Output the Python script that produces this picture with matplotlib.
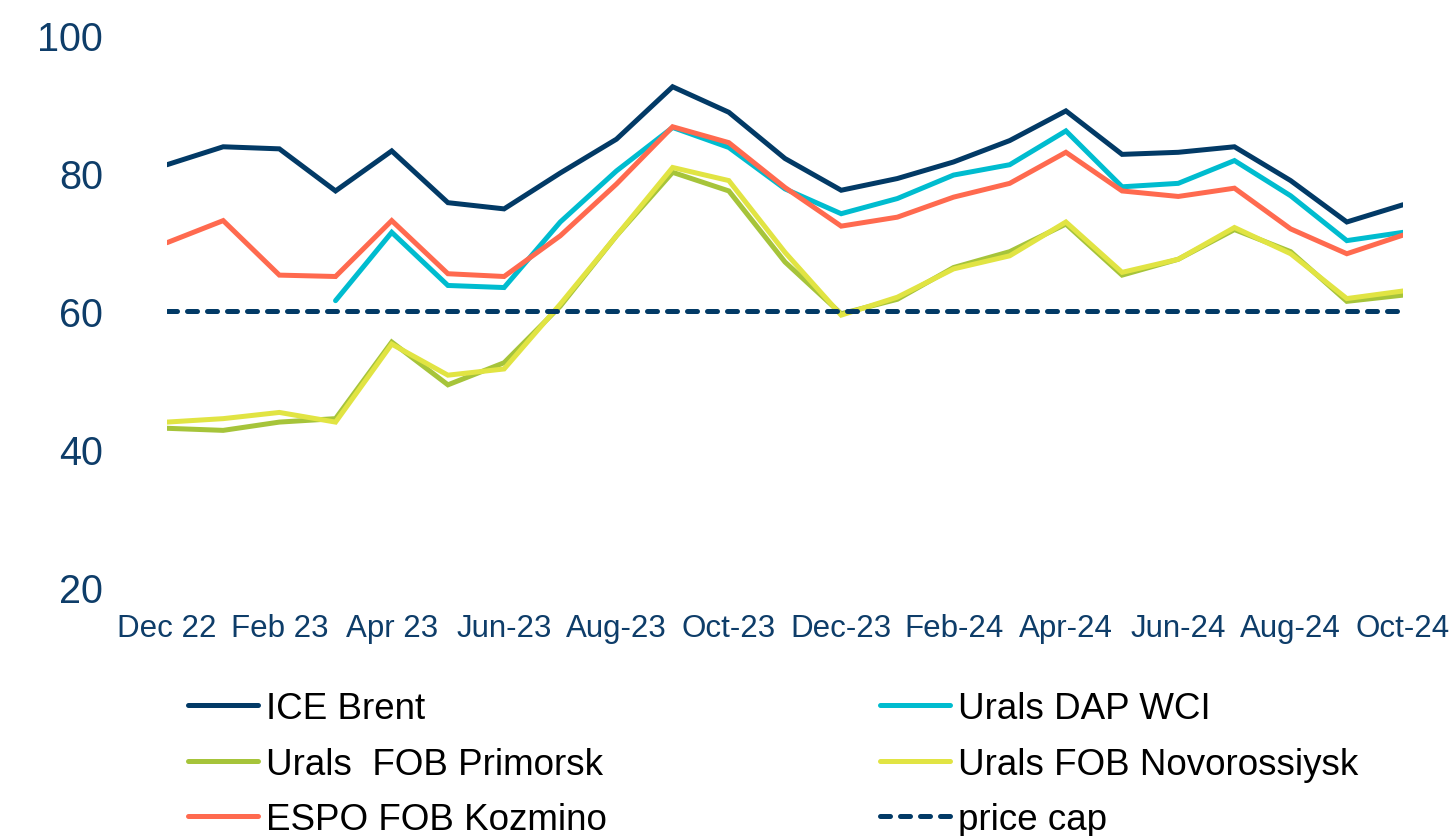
import matplotlib
matplotlib.use("Agg")
import matplotlib.pyplot as plt
import numpy as np

plt.rcParams['font.family'] = ['Liberation Sans', 'DejaVu Sans']

months = ["Dec 22", "Jan 23", "Feb 23", "Mar 23", "Apr 23", "May-23", "Jun-23",
          "Jul-23", "Aug-23", "Sep-23", "Oct-23", "Nov-23", "Dec-23", "Jan-24",
          "Feb-24", "Mar-24", "Apr-24", "May-24", "Jun-24", "Jul-24", "Aug-24",
          "Sep-24", "Oct-24"]
tick_labels = ["Dec 22", "Feb 23", "Apr 23", "Jun-23", "Aug-23", "Oct-23",
               "Dec-23", "Feb-24", "Apr-24", "Jun-24", "Aug-24", "Oct-24"]

ice_brent = [81.2, 83.8, 83.5, 77.4, 83.2, 75.7, 74.8, 80.0, 84.9, 92.5, 88.8, 82.1,
             77.5, 79.2, 81.6, 84.7, 89.0, 82.7, 83.0, 83.8, 78.9, 72.9, 75.4]
urals_dap_wci = [np.nan, np.nan, np.nan, 61.5, 71.4, 63.7, 63.4, 72.9, 80.3, 86.6, 83.7,
                 77.7, 74.1, 76.3, 79.7, 81.2, 86.1, 78.0, 78.5, 81.8, 76.7, 70.2, 71.4]
espo_kozmino = [69.9, 73.1, 65.2, 65.0, 73.1, 65.4, 65.0, 70.9, 78.4, 86.7, 84.4, 77.9,
                72.3, 73.6, 76.5, 78.5, 83.0, 77.4, 76.6, 77.8, 71.9, 68.3, 71.0]
urals_primorsk = [43.0, 42.7, 43.9, 44.4, 55.5, 49.3, 52.5, 60.7, 70.9, 80.1, 77.4, 67.1,
                  59.6, 61.7, 66.3, 68.6, 72.6, 65.2, 67.5, 71.8, 68.6, 61.4, 62.3]
urals_novorossiysk = [43.9, 44.4, 45.3, 43.9, 55.2, 50.7, 51.6, 61.0, 70.9, 80.8, 78.9, 68.5,
                      59.4, 62.0, 66.1, 68.0, 72.9, 65.6, 67.5, 72.1, 68.3, 61.8, 62.9]
price_cap = [60] * 23

C_BRENT = '#023a66'
C_CYAN = '#00bccf'
C_RED = '#ff6a4f'
C_GREEN = '#a6c43a'
C_YELLOW = '#e1e443'
TXT = '#0e3d69'

fig = plt.figure(figsize=(14.49, 8.37), dpi=100)
ax = fig.add_axes([167/1449, 1-588/837, (1403-167)/1449, (588-36)/837])

x = np.arange(len(months))
lw = 3.6
kw = dict(lw=lw, solid_capstyle='round', solid_joinstyle='miter')
l_cyan, = ax.plot(x, urals_dap_wci, color=C_CYAN, label='Urals DAP WCI', **kw)
l_red, = ax.plot(x, espo_kozmino, color=C_RED, label='ESPO FOB Kozmino', **kw)
l_green, = ax.plot(x, urals_primorsk, color=C_GREEN, label='Urals  FOB Primorsk', **kw)
l_yellow, = ax.plot(x, urals_novorossiysk, color=C_YELLOW, label='Urals FOB Novorossiysk', **kw)
l_brent, = ax.plot(x, ice_brent, color=C_BRENT, label='ICE Brent', **kw)
l_cap, = ax.plot(x, price_cap, color=C_BRENT, lw=lw, linestyle=(0, (2.0, 2.0)),
                 dash_capstyle='round', label='price cap')

ax.set_xlim(0, len(months) - 1)
ax.set_ylim(20, 100)
ax.set_yticks([20, 40, 60, 80, 100])
ax.set_xticks(x[::2])
ax.set_xticklabels(tick_labels)
for s in ax.spines.values():
    s.set_visible(False)
ax.tick_params(axis='y', length=0, pad=46, labelsize=28.5, labelcolor=TXT)
ax.tick_params(axis='x', length=0, pad=19, labelsize=22.5, labelcolor=TXT)

common = dict(frameon=False, fontsize=26.5, handlelength=1.9, handletextpad=0.22,
              labelspacing=0.56, borderpad=0, borderaxespad=0, loc='upper left')
leg1 = fig.legend([l_brent, l_green, l_red],
                  ['ICE Brent', 'Urals  FOB Primorsk', 'ESPO FOB Kozmino'],
                  bbox_to_anchor=(188/1449, 1-692/837), **common)
leg2 = fig.legend([l_cyan, l_yellow, l_cap],
                  ['Urals DAP WCI', 'Urals FOB Novorossiysk', 'price cap'],
                  bbox_to_anchor=(880/1449, 1-692/837), **common)

fig.savefig('out.png', dpi=100)
